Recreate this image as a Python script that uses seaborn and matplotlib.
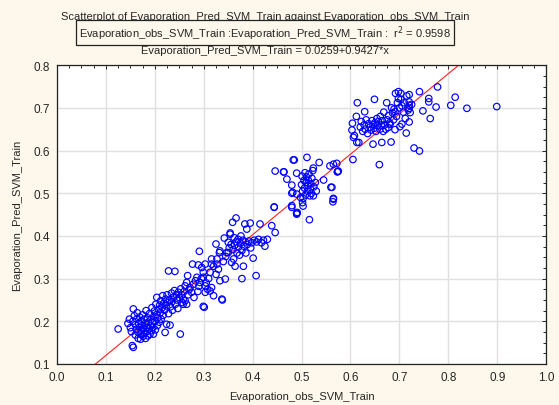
import numpy as np
import pandas as pd
import matplotlib
matplotlib.use("Agg")
import matplotlib.pyplot as plt
from matplotlib.ticker import MultipleLocator
import seaborn as sns

# observed (x) values
obs_low = [0.125,0.154,0.156,0.145,0.148,0.150,0.152,0.155,0.156,0.158,0.160,0.160,0.162,0.163,0.164,0.165,0.166,0.167,0.168,0.169,0.170,0.171,0.172,0.173,0.174,0.175,0.176,0.177,0.178,0.179,0.180,0.181,0.182,0.183,0.184,0.185,0.186,0.187,0.188,0.189,0.190,0.191,0.192,0.193,0.194,0.195,0.196,0.197,0.198,0.199,0.200,0.201,0.202,0.204,0.204,0.205,0.206,0.208,0.209,0.210,0.211,0.212,0.213,0.215,0.216,0.217,0.218,0.220,0.221,0.222,0.223,0.224,0.225,0.226,0.228,0.228,0.230,0.231,0.232,0.234,0.235,0.236,0.238,0.240,0.241,0.242,0.244,0.245,0.247,0.248,0.250,0.252,0.253,0.255,0.256,0.258,0.258,0.260,0.262,0.262,0.265,0.265,0.267,0.268,0.270,0.272,0.275,0.277,0.279,0.280,0.283,0.286,0.288,0.289,0.290,0.291,0.292,0.295,0.296,0.299,0.299,0.299,0.301,0.303,0.303,0.303]
pred_low = [0.182,0.143,0.139,0.195,0.205,0.185,0.176,0.200,0.229,0.213,0.192,0.168,0.181,0.205,0.220,0.175,0.160,0.195,0.186,0.210,0.170,0.158,0.200,0.178,0.190,0.215,0.165,0.183,0.205,0.172,0.195,0.160,0.225,0.186,0.176,0.208,0.166,0.198,0.182,0.218,0.170,0.190,0.204,0.178,0.232,0.196,0.186,0.170,0.212,0.224,0.200,0.180,0.240,0.256,0.216,0.190,0.208,0.228,0.198,0.238,0.220,0.248,0.205,0.232,0.260,0.214,0.242,0.226,0.174,0.252,0.236,0.193,0.262,0.244,0.218,0.318,0.250,0.191,0.234,0.266,0.246,0.226,0.256,0.272,0.317,0.240,0.262,0.250,0.230,0.268,0.256,0.170,0.276,0.262,0.244,0.252,0.240,0.270,0.283,0.248,0.240,0.291,0.307,0.262,0.274,0.279,0.268,0.334,0.287,0.256,0.295,0.303,0.270,0.332,0.282,0.364,0.291,0.300,0.326,0.315,0.303,0.235,0.233,0.283,0.334,0.268]

obs_mid = [0.305,0.308,0.310,0.313,0.313,0.316,0.316,0.316,0.320,0.320,0.325,0.325,0.327,0.327,0.330,0.332,0.333,0.333,0.337,0.338,0.340,0.342,0.344,0.345,0.347,0.350,0.350,0.352,0.354,0.354,0.356,0.357,0.359,0.360,0.361,0.362,0.363,0.364,0.366,0.366,0.368,0.370,0.371,0.373,0.375,0.376,0.378,0.378,0.380,0.381,0.382,0.384,0.385,0.386,0.388,0.389,0.392,0.395,0.396,0.398,0.401,0.403,0.407,0.408,0.412,0.415,0.418,0.422,0.425,0.430,0.439,0.444,0.446,0.444]
pred_mid = [0.290,0.275,0.300,0.315,0.271,0.279,0.334,0.346,0.329,0.260,0.381,0.310,0.346,0.334,0.322,0.361,0.295,0.365,0.252,0.250,0.340,0.395,0.299,0.352,0.361,0.385,0.361,0.372,0.407,0.404,0.380,0.338,0.432,0.368,0.346,0.396,0.378,0.329,0.442,0.386,0.360,0.392,0.374,0.355,0.383,0.400,0.300,0.366,0.390,0.329,0.376,0.428,0.386,0.360,0.416,0.380,0.388,0.430,0.372,0.384,0.348,0.390,0.307,0.386,0.392,0.428,0.384,0.390,0.376,0.392,0.424,0.467,0.408,0.468]

obs_up = [0.446,0.463,0.464,0.470,0.480,0.480,0.480,0.480,0.482,0.483,0.485,0.490,0.490,0.490,0.490,0.491,0.498,0.500,0.501,0.502,0.503,0.502,0.503,0.505,0.506,0.507,0.508,0.509,0.510,0.511,0.512,0.513,0.514,0.515,0.516,0.517,0.518,0.519,0.520,0.521,0.523,0.524,0.524,0.525,0.528,0.530,0.536,0.545,0.558,0.560,0.562,0.564,0.565,0.565,0.565,0.572,0.573,0.575,0.574]
pred_up = [0.552,0.550,0.550,0.533,0.519,0.500,0.467,0.471,0.502,0.578,0.578,0.547,0.498,0.451,0.453,0.455,0.490,0.520,0.540,0.505,0.488,0.478,0.470,0.530,0.512,0.548,0.496,0.525,0.538,0.584,0.505,0.518,0.530,0.545,0.438,0.494,0.510,0.522,0.500,0.535,0.553,0.559,0.494,0.515,0.525,0.505,0.572,0.531,0.564,0.514,0.514,0.480,0.486,0.568,0.488,0.570,0.550,0.552,0.551]

obs_top = [0.603,0.604,0.605,0.606,0.608,0.612,0.613,0.614,0.617,0.620,0.622,0.625,0.628,0.629,0.630,0.632,0.635,0.637,0.640,0.642,0.644,0.646,0.646,0.648,0.649,0.650,0.652,0.654,0.655,0.657,0.659,0.660,0.661,0.663,0.664,0.665,0.667,0.668,0.670,0.672,0.674,0.675,0.677,0.678,0.680,0.681,0.683,0.684,0.686,0.688,0.689,0.691,0.691,0.692,0.694,0.696,0.698,0.698,0.700,0.701,0.703,0.703,0.705,0.705,0.708,0.710,0.712,0.714,0.715,0.718,0.720,0.720,0.720,0.720,0.720,0.722,0.725,0.730,0.741,0.741,0.748,0.760,0.760,0.763,0.775,0.778,0.805,0.814,0.838,0.899]
pred_top = [0.648,0.664,0.579,0.631,0.635,0.680,0.619,0.712,0.619,0.655,0.668,0.645,0.660,0.691,0.650,0.672,0.640,0.663,0.655,0.648,0.670,0.615,0.660,0.652,0.720,0.665,0.645,0.675,0.658,0.668,0.567,0.650,0.680,0.660,0.619,0.670,0.645,0.690,0.660,0.650,0.712,0.672,0.654,0.682,0.665,0.662,0.620,0.700,0.688,0.672,0.697,0.649,0.691,0.734,0.680,0.712,0.738,0.722,0.700,0.656,0.734,0.720,0.705,0.662,0.690,0.712,0.675,0.641,0.728,0.695,0.714,0.706,0.699,0.667,0.731,0.689,0.708,0.606,0.599,0.738,0.693,0.722,0.714,0.675,0.702,0.749,0.706,0.725,0.699,0.703]

intercept = 0.0259
slope = 0.9427
r2 = 0.9598
x_ticks = [0.0, 0.1, 0.2, 0.3, 0.4, 0.5, 0.6, 0.7, 0.8, 0.9, 1.0]
y_ticks = [0.1, 0.2, 0.3, 0.4, 0.5, 0.6, 0.7, 0.8]

df = pd.DataFrame({
    "Evaporation_obs_SVM_Train": obs_low + obs_mid + obs_up + obs_top,
    "Evaporation_Pred_SVM_Train": pred_low + pred_mid + pred_up + pred_top,
})

sns.set_style("white")
plt.rcParams["font.family"] = ["Liberation Sans", "DejaVu Sans"]

bg = "#FDF8EB"
fig = plt.figure(figsize=(5.59, 4.06), dpi=100, facecolor=bg)
ax = fig.add_axes([0.102, 0.101, 0.875, 0.736])
ax.set_facecolor("white")

ax.grid(True, color="#E0E0E0", linewidth=1.0)
ax.set_axisbelow(True)

fx = np.array([0.0, 1.0])
ax.plot(fx, intercept + slope * fx, color="#FF2020", linewidth=0.8, zorder=2)

sns.scatterplot(data=df, x="Evaporation_obs_SVM_Train", y="Evaporation_Pred_SVM_Train",
                ax=ax, marker="o", s=22, facecolors="none", edgecolor="#0000FF",
                linewidth=0.85, zorder=3)

ax.set_xlim(0.0, 1.0)
ax.set_ylim(0.1, 0.8)
ax.set_xticks(x_ticks)
ax.set_yticks(y_ticks)
ax.set_xticklabels([f"{v:.1f}" for v in x_ticks], fontsize=8.5)
ax.set_yticklabels([f"{v:.1f}" for v in y_ticks], fontsize=8.5)
ax.xaxis.set_minor_locator(MultipleLocator(0.025))
ax.yaxis.set_minor_locator(MultipleLocator(0.025))
ax.tick_params(which="both", direction="in", top=True, right=True, length=3,
               width=0.7, color="#222222", pad=5)
ax.tick_params(which="minor", length=2.5)
for s in ax.spines.values():
    s.set_color("#222222")
    s.set_linewidth(0.9)

ax.set_xlabel("Evaporation_obs_SVM_Train", fontsize=8, labelpad=6)
ax.set_ylabel("Evaporation_Pred_SVM_Train", fontsize=8, labelpad=8)

cx = 0.474
fig.text(cx, 1 - 17 / 406, "Scatterplot of Evaporation_Pred_SVM_Train against Evaporation_obs_SVM_Train",
         ha="center", va="center", fontsize=8)
fig.text(cx, 1 - 33.5 / 406,
         "Evaporation_obs_SVM_Train :Evaporation_Pred_SVM_Train :  r$^2$ = " + f"{r2:.4f}",
         ha="center", va="center", fontsize=8,
         bbox=dict(boxstyle="square,pad=0.25", facecolor=bg, edgecolor="#222222", linewidth=0.9))
fig.text(cx, 1 - 51 / 406,
         f"Evaporation_Pred_SVM_Train = {intercept:.4f}+{slope:.4f}*x",
         ha="center", va="center", fontsize=8)

fig.savefig("out.png", dpi=100, facecolor=bg)
